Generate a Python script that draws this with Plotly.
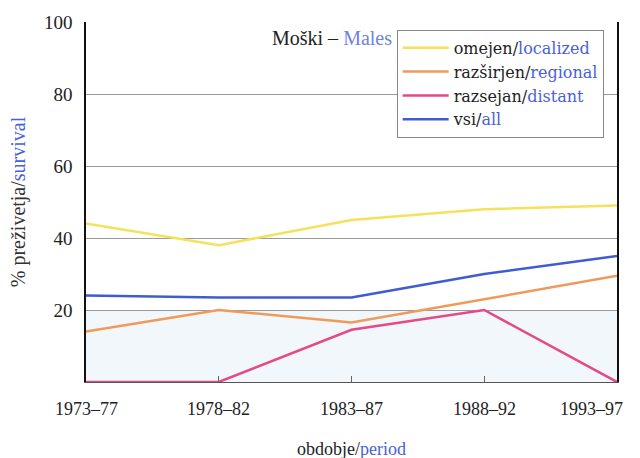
import plotly.graph_objects as go

periods = ["1973–77", "1978–82", "1983–87", "1988–92", "1993–97"]
localized = [44, 38, 45, 48, 49]
regional = [14, 20, 16.5, 23, 29.5]
distant = [0, 0, 14.5, 20, 0]
all_ = [24, 23.5, 23.5, 30, 35]
yticks = [20, 40, 60, 80, 100]

BLUE_TXT = "#4a5fd8"
FONT = "Liberation Serif, DejaVu Serif, serif"
LEG_FONT = "DejaVu Serif, serif"

series = [
    ("omejen/", "localized", localized, "#f6e15c"),
    ("razširjen/", "regional", regional, "#f09a5a"),
    ("razsejan/", "distant", distant, "#e54a86"),
    ("vsi/", "all", all_, "#3f5cd2"),
]

fig = go.Figure()
xs = list(range(len(periods)))
for sl, en, vals, col in series:
    fig.add_trace(go.Scatter(
        x=xs, y=vals, mode="lines",
        line=dict(color=col, width=2.5),
        name=f"{sl}<span style='color:{BLUE_TXT}'>{en}</span>",
    ))

fig.add_shape(type="rect", xref="x", yref="y", x0=0, x1=4, y0=0, y1=20,
              fillcolor="#f1f7fb", line_width=0, layer="below")

for i, p in enumerate(periods):
    anchor = "center"
    shift = 0
    if i == len(periods) - 1:
        anchor = "right"
        shift = 8
    fig.add_annotation(x=i, y=0, xref="x", yref="y", text=p, showarrow=False,
                       xanchor=anchor, yanchor="top", yshift=-15, xshift=shift,
                       font=dict(family=FONT, size=18, color="#222"))

fig.add_annotation(x=0.5, y=-0.185, xref="paper", yref="paper",
                   text=f"obdobje/<span style='color:{BLUE_TXT}'>period</span>",
                   showarrow=False, xanchor="center", yanchor="middle",
                   font=dict(family=FONT, size=18, color="#222"))

fig.add_annotation(x=0.463, y=0.955, xref="paper", yref="paper",
                   text=f"Moški – <span style='color:#6f82e0'>Males</span>",
                   showarrow=False, xanchor="center", yanchor="middle",
                   font=dict(family=FONT, size=20, color="#222"))

fig.update_layout(
    width=640, height=458,
    margin=dict(l=86, r=23, t=22, b=76),
    paper_bgcolor="white", plot_bgcolor="white",
    font=dict(family=FONT, size=18, color="#222"),
    showlegend=True,
    legend=dict(x=0.585, y=0.978, xanchor="left", yanchor="top",
                bgcolor="white", bordercolor="#888", borderwidth=1,
                font=dict(family=LEG_FONT, size=16, color="#222"),
                tracegroupgap=0, itemwidth=46),
    xaxis=dict(range=[0, 4], tickvals=[1, 2, 3], ticktext=["", "", ""],
               showgrid=False, zeroline=False, showline=True,
               linecolor="#555", linewidth=1, ticks="inside", ticklen=6,
               tickcolor="#666", mirror=False, automargin=False),
    yaxis=dict(range=[0, 100], tickvals=yticks,
               ticktext=[str(v) for v in yticks],
               showgrid=True, gridcolor="#9a9a9a", gridwidth=1,
               zeroline=False, showline=True, linecolor="#111", linewidth=1.5,
               mirror=True, ticks="", ticklabelstandoff=8, automargin=False,
               tickfont=dict(family=FONT, size=19, color="#222"),
               title=dict(text=f"% preživetja/<span style='color:{BLUE_TXT}'>survival</span>",
                          font=dict(family=FONT, size=20, color="#333"),
                          standoff=13)),
)

fig.write_html("out.html", config={"displayModeBar": False},
               post_script="document.body.style.margin='0';document.body.style.padding='0';")
